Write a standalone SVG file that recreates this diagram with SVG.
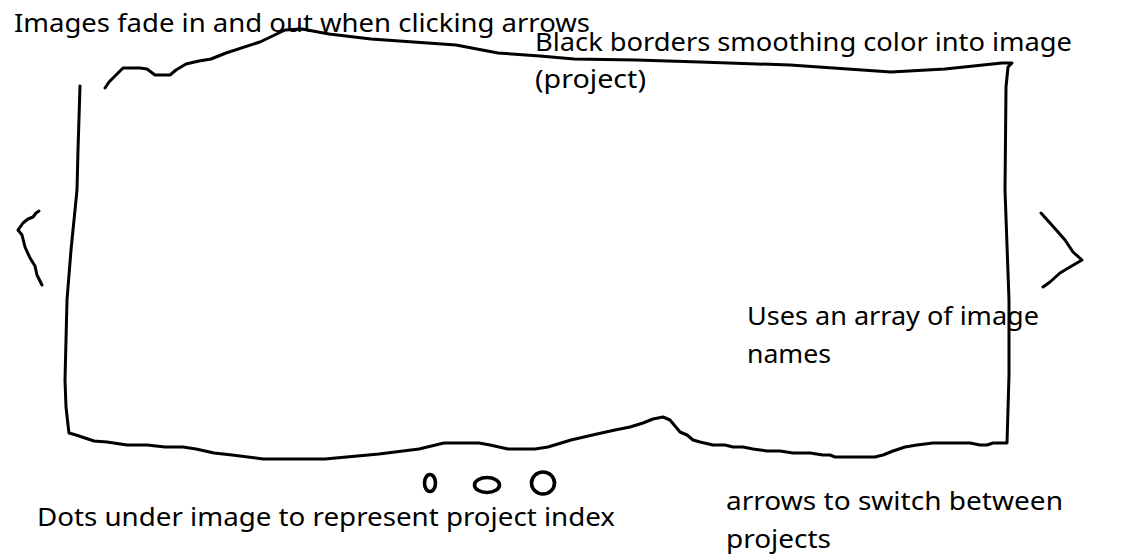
<svg xmlns="http://www.w3.org/2000/svg" width="1126" height="560" viewBox="0 0 1126 560">
<style>
.ink{fill:none;stroke:#000;stroke-width:3;stroke-linecap:round;stroke-linejoin:round}
.dot{fill:none;stroke:#000;stroke-width:3.6}
.lbl{font-family:"Noto Sans","Open Sans","Liberation Sans",sans-serif;font-size:26px;fill:#000}
</style>
<rect width="1126" height="560" fill="#fff"/>
<g id="frame">
<polyline class="ink" points="80,86 78,150 77,190 71,250 67,300 65,380 66,407 68,425 69,433 76,435 94,441 107,442 127,445 147,445 165,447 183,447 196,449 214,453 232,455 263,459 325,459 379,454 419,449 444,443 479,443 490,445 508,449 535,449 548,447 571,440 597,434 615,430 630,427 643,423 653,419 663,417 670,420 680,432 687,435 693,440 700,442 713,445 725,445 733,447 743,447 753,449 767,451 780,451 793,453 810,453 823,455 830,455 835,457 875,457 883,455 893,451 905,447 917,445 933,443 970,443 980,445 987,445 993,443 1007,443 1009,375 1009,300 1005,190 1006,87 1008,67 1012,63 1002,63 945,69 891,72 790,65 700,62 636,60 574,59 540,56 498,53 456,45 371,39 329,34 302,29 285,30 260,42 226,53 211,59 199,61 186,64 176,70 170,75 155,75 147,69 140,68 123,68 109,82 105,88"/>
</g>
<g id="arrow-left">
<polyline class="ink" points="39,211 36,213 33,217 28,219 23,223 18,230 22,235 25,247 30,258 35,266 37,275 39,279 42,285"/>
</g>
<g id="arrow-right">
<polyline class="ink" points="1041,213 1050,223 1058,232 1065,240 1073,252 1082,260 1070,267 1060,273 1050,282 1043,287"/>
</g>
<g id="dots">
<ellipse class="dot" cx="430" cy="483" rx="5.5" ry="8.5"/>
<ellipse class="dot" cx="487" cy="485" rx="12.5" ry="7.5"/>
<ellipse class="dot" cx="543" cy="483" rx="11.5" ry="11"/>
</g>
<g id="connectors"></g>
<g id="label-fade"><text class="lbl" x="14" y="32" textLength="576" lengthAdjust="spacingAndGlyphs">Images fade in and out when clicking arrows</text></g>
<g id="label-borders">
<text class="lbl" x="535" y="51" textLength="537" lengthAdjust="spacingAndGlyphs">Black borders smoothing color into image</text>
<text class="lbl" x="535" y="88" textLength="111" lengthAdjust="spacingAndGlyphs">(project)</text>
</g>
<g id="label-array">
<text class="lbl" x="747" y="325" textLength="292" lengthAdjust="spacingAndGlyphs">Uses an array of image</text>
<text class="lbl" x="747" y="363" textLength="84" lengthAdjust="spacingAndGlyphs">names</text>
</g>
<g id="label-dots"><text class="lbl" x="37" y="526" textLength="578" lengthAdjust="spacingAndGlyphs">Dots under image to represent project index</text></g>
<g id="label-arrows">
<text class="lbl" x="726" y="510" textLength="337" lengthAdjust="spacingAndGlyphs">arrows to switch between</text>
<text class="lbl" x="726" y="548" textLength="105" lengthAdjust="spacingAndGlyphs">projects</text>
</g>
</svg>
